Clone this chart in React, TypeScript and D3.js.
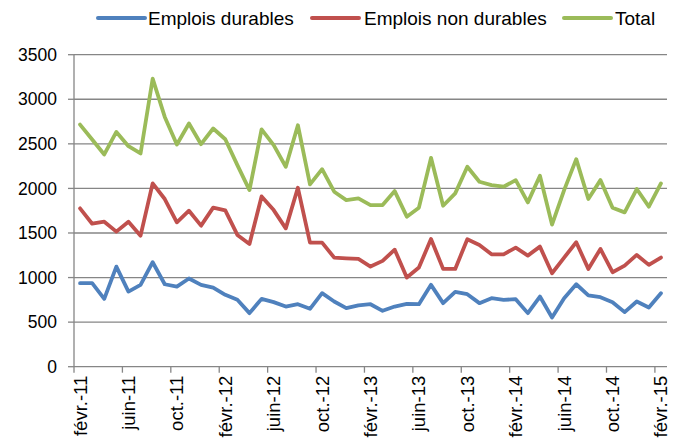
import React from "react";
import * as d3 from "d3";

const months = ["févr.", "mars", "avr.", "mai", "juin", "juil.", "août", "sept.", "oct.", "nov.", "déc.", "janv."];
const categories: string[] = (() => {
  const out: string[] = [];
  let y = 11;
  for (let i = 0; i < 49; i++) {
    const m = months[i % 12];
    if (m === "janv.") y += 1;
    out.push(`${m}-${y}`);
  }
  return out;
})();

const durables = [937, 937, 761, 1123, 843, 918, 1172, 925, 899, 989, 918, 888, 806, 750, 601, 761,
  724, 675, 701, 649, 825, 731, 657, 687, 701, 627, 675, 705, 701, 918, 713, 840,
  813, 713, 769, 750, 757, 601, 787, 552, 769, 925, 799, 780, 724, 612, 731, 664, 825];
const nonDurables = [1776, 1604, 1627, 1515, 1627, 1470, 2056, 1881, 1619, 1750, 1582, 1784, 1754, 1478, 1377, 1910,
  1757, 1552, 2007, 1392, 1392, 1224, 1216, 1209, 1123, 1187, 1313, 1000, 1112, 1433, 1097, 1097,
  1429, 1366, 1261, 1261, 1336, 1246, 1347, 1048, 1224, 1396, 1097, 1321, 1060, 1134, 1254, 1142, 1224];
const total = [2716, 2549, 2381, 2634, 2474, 2392, 3231, 2802, 2493, 2728, 2496, 2672, 2552, 2261, 1981, 2662,
  2485, 2243, 2709, 2045, 2216, 1963, 1869, 1888, 1813, 1813, 1970, 1683, 1784, 2343, 1806, 1944,
  2243, 2075, 2037, 2019, 2093, 1843, 2142, 1594, 1981, 2328, 1881, 2093, 1784, 1731, 1993, 1795, 2056];

const yTicks = [0, 500, 1000, 1500, 2000, 2500, 3000, 3500];

const seriesNames = ["Emplois durables", "Emplois non durables", "Total"];
const seriesColors = ["#4F81BD", "#C0504D", "#9BBB59"];
const seriesData = [durables, nonDurables, total];

export default function App() {
  const W = 676, H = 443;
  const left = 74, right = 667, top = 54.7, bottom = 366.7;
  const x = d3.scaleBand<string>().domain(categories).range([left, right]).paddingInner(0).paddingOuter(0);
  const y = d3.scaleLinear().domain([0, 3500]).range([bottom, top]);
  const cx = (c: string) => (x(c) as number) + x.bandwidth() / 2;
  const line = d3.line<number>().x((_, i) => cx(categories[i])).y((d) => y(d));
  const font = "'Liberation Sans', Arial, sans-serif";
  const grid = "#868686";

  const legendItems = [
    { lx: 98, tx: 148 },
    { lx: 312, tx: 364 },
    { lx: 564, tx: 615 },
  ];

  const tickCats = categories.filter((_, i) => i % 4 === 0);

  return (
    <svg width={W} height={H} style={{ position: "absolute", left: 0, top: 0 }}>
      <rect width={W} height={H} fill="#fff" />
      {yTicks.map((t) => (
        <g key={t}>
          {t > 0 && <line x1={left} x2={right} y1={y(t)} y2={y(t)} stroke={grid} strokeWidth={1.3} />}
          <line x1={left - 6} x2={left} y1={y(t)} y2={y(t)} stroke={grid} strokeWidth={1.3} />
          <text x={57} y={y(t)} dy="0.35em" textAnchor="end" fontFamily={font} fontSize={17.5} fill="#000">{t}</text>
        </g>
      ))}
      <line x1={left} x2={left} y1={top} y2={bottom} stroke={grid} strokeWidth={1.3} />
      <line x1={left} x2={right} y1={bottom} y2={bottom} stroke={grid} strokeWidth={1.3} />
      {tickCats.map((c) => (
        <g key={c}>
          <line x1={x(c) as number} x2={x(c) as number} y1={bottom} y2={bottom + 6} stroke={grid} strokeWidth={1.3} />
          <text transform={`translate(${cx(c)},${bottom + 9}) rotate(-90)`} dy="0.35em" textAnchor="end" fontFamily={font} fontSize={18.5} fill="#000">{c}</text>
        </g>
      ))}
      {seriesData.map((s, k) => (
        <path key={k} d={line(s) as string} fill="none" stroke={seriesColors[k]} strokeWidth={3.8} strokeLinejoin="round" strokeLinecap="round" />
      ))}
      {seriesNames.map((n, k) => (
        <g key={n}>
          <line x1={legendItems[k].lx} x2={legendItems[k].lx + 47} y1={18} y2={18} stroke={seriesColors[k]} strokeWidth={4} strokeLinecap="round" />
          <text x={legendItems[k].tx} y={18} dy="0.35em" fontFamily={font} fontSize={19} fill="#000">{n}</text>
        </g>
      ))}
    </svg>
  );
}
